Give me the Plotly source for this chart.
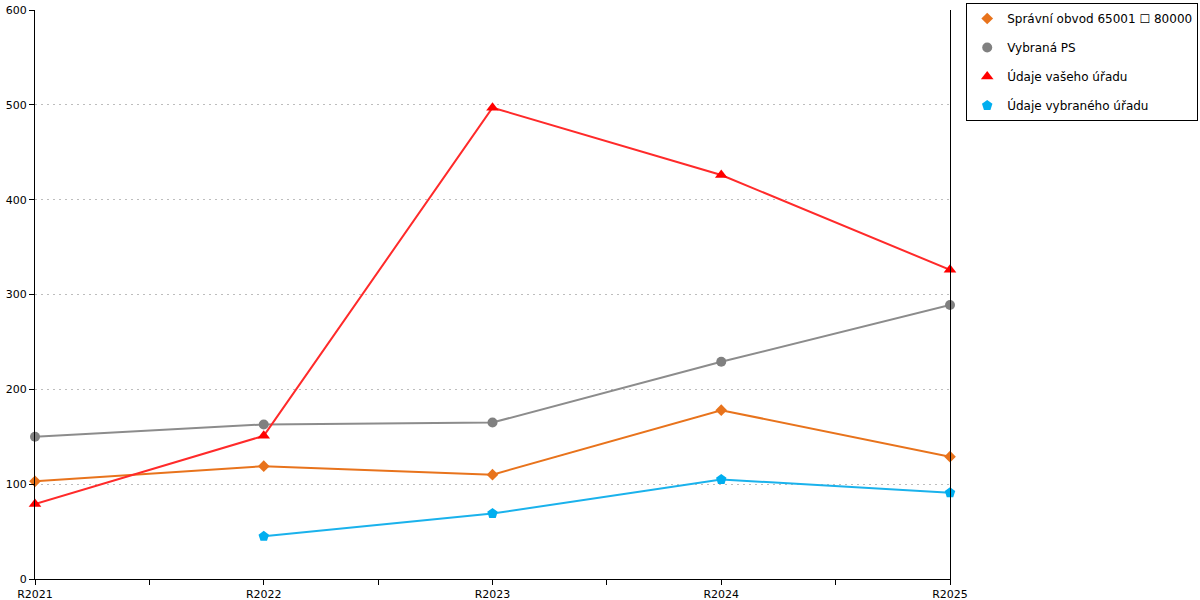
import plotly.graph_objects as go

# Categories (years)
years = ['R2021', 'R2022', 'R2023', 'R2024', 'R2025']

# Series values
obvod = [103, 119, 110, 178, 129]
vybrana_ps = [150, 163, 165, 229, 289]
vas_urad = [79, 151, 497, 426, 326]
vybrany_urad = [None, 45, 69, 105, 91]

x_pos = list(range(len(years)))

series = [
    ('Správní obvod 65001 \u2610 80000', obvod, '#E8731C', '#E8731C', 'diamond', 9),
    ('Vybraná PS', vybrana_ps, '#8C8C8C', '#808080', 'circle', 10),
    ('Údaje vašeho úřadu', vas_urad, '#FF2A2A', '#FF0000', 'triangle-up', 11),
    ('Údaje vybraného úřadu', vybrany_urad, '#1AB2EC', '#00AEEF', 'pentagon', 11),
]

fig = go.Figure()
# lines first (no legend), then markers on top with legend entries
for name, vals, lcol, mcol, sym, size in series:
    fig.add_trace(go.Scatter(x=x_pos, y=vals, mode='lines', showlegend=False,
                             line=dict(color=lcol, width=2), hoverinfo='skip'))
for i, (name, vals, lcol, mcol, sym, size) in enumerate(series):
    fig.add_trace(go.Scatter(
        x=x_pos, y=vals, name=name, mode='markers',
        marker=dict(symbol=sym, size=size, color=mcol),
        cliponaxis=False, legendgroup='g%d' % i,
    ))

fig.update_layout(
    width=1200, height=600,
    margin=dict(l=35, r=250, t=10, b=21, autoexpand=False),
    plot_bgcolor='white', paper_bgcolor='white',
    font=dict(family='DejaVu Sans', size=11, color='black'),
    showlegend=True,
    legend=dict(xref='container', yref='container', x=0.9985, y=0.995,
                xanchor='right', yanchor='top',
                bordercolor='black', borderwidth=1, font=dict(size=12),
                tracegroupgap=10, traceorder='grouped', itemwidth=30),
    xaxis=dict(range=[0, 4], tickvals=x_pos, ticktext=years, automargin=False,
               showgrid=False, zeroline=False, showline=True,
               linecolor='black', linewidth=1, ticks='outside',
               ticklen=5, tickcolor='black',
               minor=dict(dtick=0.5, tick0=0, ticks='outside', ticklen=5,
                          tickcolor='black', showgrid=False)),
    yaxis=dict(range=[0, 600], dtick=100, showgrid=True, automargin=False,
               gridcolor='#BDBDBD', griddash='2px,4px', zeroline=False,
               showline=True, mirror=True, linecolor='black', linewidth=1,
               ticks='outside', ticklen=5, tickcolor='black'),
)

# drop the default 8px body margin so the figure sits at the page corner
fig.write_html('out.html', config={'displayModeBar': False},
               post_script="document.body.style.margin='0';")
